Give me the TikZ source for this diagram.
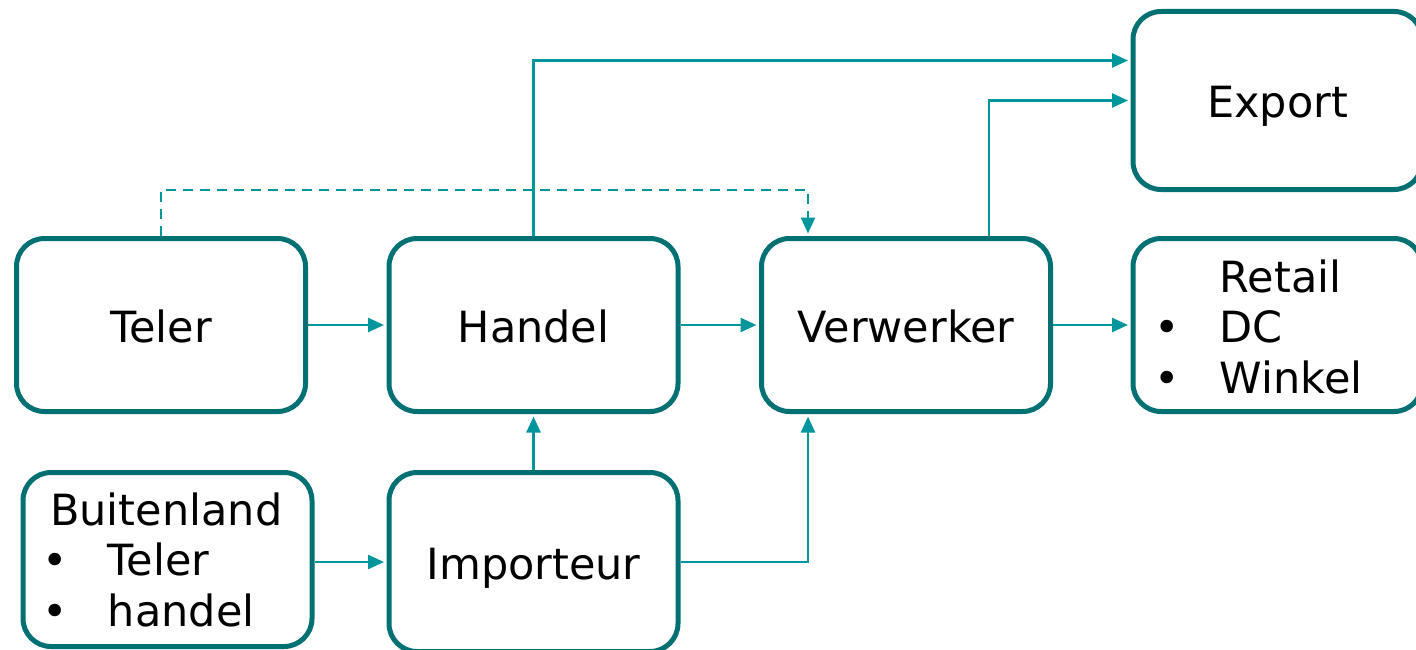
\documentclass[tikz,border=0pt]{standalone}
\usepackage{fontspec}
\setmainfont{DejaVu Sans}
\usetikzlibrary{arrows.meta}

\definecolor{boxteal}{RGB}{0,112,115}
\definecolor{flowteal}{RGB}{0,150,156}

\tikzset{
  chainbox/.style={draw=boxteal, line width=5pt, rounded corners=28pt,
    minimum width=289pt, minimum height=173pt, inner sep=0pt,
    text height=35pt, text depth=0pt, font=\fontsize{43}{50.5}\selectfont},
  flow/.style={draw=flowteal, line width=2.5pt,
    -{Triangle[length=16pt,width=14pt]}, shorten >=2.5pt},
  listtext/.style={font=\fontsize{43}{50.5}\selectfont, inner sep=0pt, anchor=base west}
}

\begin{document}
\begin{tikzpicture}[x=1pt,y=-1pt]

\useasboundingbox (0,0) rectangle (1416,650);
\clip (0,0) rectangle (1416,650);

\node[chainbox] (teler) at (161,325) {Teler};
\node[chainbox] (handel) at (533.5,325) {Handel};
\node[chainbox] (verwerker) at (906,325) {Verwerker};
\node[chainbox] (retail) at (1277.5,325) {};
\node[chainbox, minimum height=178pt] (export) at (1277.5,100.5) {Export};
\node[chainbox, minimum height=174pt] (buitenland) at (167.5,559.5) {};
\node[chainbox, minimum height=179pt] (importeur) at (533.5,562) {Importeur};

\node[listtext] (retailtext) at (1154,292) {\begin{tabular}[t]{@{}c@{\hspace{40.3pt}}l@{}}
  & Retail\\ • & DC\\ • & Winkel\end{tabular}};
\node[listtext] (buitenlandtext) at (42,525) {\begin{tabular}[t]{@{}c@{\hspace{40.3pt}}l@{}}
  \multicolumn{2}{@{}l@{}}{\hspace{8pt}Buitenland}\\ • & Teler\\ • & handel\end{tabular}};

\draw[flow] (teler) -- (handel);
\draw[flow] (handel) -- (verwerker);
\draw[flow] (verwerker) -- (retail);
\draw[flow] (buitenland.east |- importeur.west) -- (importeur.west);
\draw[flow] (importeur) -- (handel);
\draw[flow] (importeur.east) -| ([xshift=-98pt]verwerker.south);
\draw[flow] (handel.north) |- ([yshift=40pt]export.west);
\draw[flow] ([xshift=83pt]verwerker.north) |- (export.west);
\draw[flow, dash pattern=on 10pt off 7pt] (teler.north) -- ++(0,-46) -| ([xshift=-98pt]verwerker.north);

\end{tikzpicture}
\end{document}
